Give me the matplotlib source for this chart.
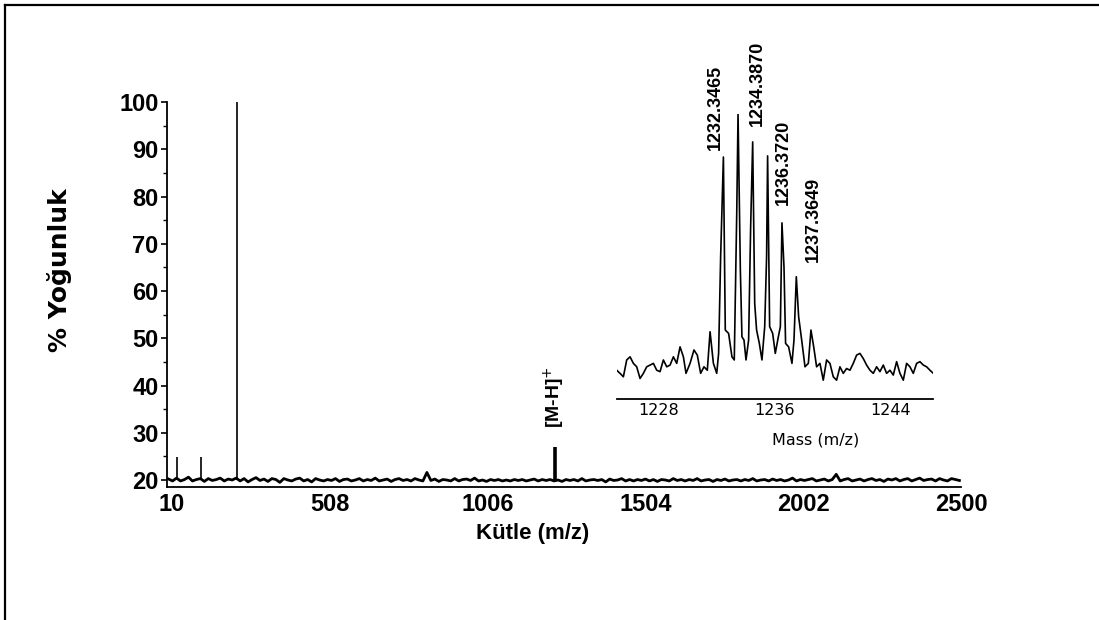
import matplotlib
matplotlib.use("Agg")
import matplotlib.pyplot as plt
from matplotlib import font_manager
from matplotlib.lines import Line2D
import numpy as np

noise_int = [
    20.2, 19.8, 20.4, 19.8, 20.1, 20.6, 19.8, 20.1, 20.3, 19.7,
    20.3, 19.9, 20.1, 20.4, 19.8, 20.2, 20.0, 20.4, 19.8, 20.3,
    19.6, 20.1, 20.5, 19.9, 20.2, 19.7, 20.3, 20.1, 19.5, 20.3,
    20.0, 19.8, 20.2, 20.4, 19.8, 20.1, 19.6, 20.3, 20.0, 19.8,
    20.1, 19.9, 20.3, 19.7, 20.1, 20.2, 19.8, 20.0, 20.3, 19.8,
    20.1, 19.9, 20.4, 19.8, 20.0, 20.2, 19.7, 20.1, 20.3, 19.9,
    20.1, 19.8, 20.3, 20.0, 19.8, 21.6, 19.9, 20.2, 19.7, 20.1,
    20.0, 19.8, 20.3, 19.8, 20.1, 20.2, 19.9, 20.4, 19.8, 20.0,
    19.7, 20.1, 19.9, 20.1, 19.8, 20.0, 19.8, 20.1, 19.9, 20.1,
    19.8, 20.0, 20.2, 19.8, 20.1, 19.9, 20.1, 19.8, 20.0, 19.7,
    20.1, 19.9, 20.1, 19.8, 20.3, 19.8, 20.0, 20.1, 19.9, 20.1,
    19.6, 20.2, 19.9, 20.0, 20.3, 19.8, 20.1, 19.8, 20.1, 19.9,
    20.2, 19.8, 20.1, 19.7, 20.1, 20.0, 19.8, 20.3, 19.9, 20.1,
    19.8, 20.1, 19.9, 20.3, 19.8, 20.0, 20.1, 19.7, 20.1, 19.9,
    20.2, 19.8, 20.0, 20.1, 19.8, 20.1, 19.9, 20.3, 19.8, 20.0,
    20.1, 19.8, 20.2, 19.9, 20.1, 19.8, 20.0, 20.4, 19.8, 20.1,
    19.9, 20.1, 20.3, 19.8, 20.0, 20.2, 19.8, 20.1, 21.2, 19.8,
    20.1, 20.3, 19.8, 20.0, 20.2, 19.8, 20.1, 20.3, 19.9, 20.1,
    19.7, 20.2, 20.0, 20.3, 19.8, 20.1, 20.3, 19.8, 20.1, 20.4,
    19.9, 20.1, 20.2, 19.8, 20.3, 20.0, 19.8, 20.3, 20.1, 19.9,
]
noise_mz = np.linspace(0, 2495, len(noise_int))

# distinct peaks rising from the baseline
peak_mz = [27, 103, 216, 1218]
peak_int = [24.9, 24.9, 100, 27.0]
peak_lw = [1.2, 1.2, 1.2, 2.6]

xticks = [10, 508, 1006, 1504, 2002, 2500]
yticks = [20, 30, 40, 50, 60, 70, 80, 90, 100]

# inset: zoom on the isotope cluster
ins_mz = [
    1225.08, 1225.31, 1225.54, 1225.77, 1226.00, 1226.23, 1226.46, 1226.69, 1226.92, 1227.15,
    1227.38, 1227.61, 1227.84, 1228.07, 1228.30, 1228.53, 1228.76, 1228.99, 1229.22, 1229.45,
    1229.68, 1229.86, 1230.14, 1230.41, 1230.64, 1230.87, 1231.10, 1231.33, 1231.52, 1231.75,
    1231.98, 1232.11, 1232.25, 1232.44, 1232.57, 1232.80, 1233.03, 1233.19, 1233.36, 1233.45,
    1233.61, 1233.72, 1233.86, 1234.00, 1234.18, 1234.32, 1234.46, 1234.60, 1234.73, 1234.92,
    1235.10, 1235.29, 1235.42, 1235.49, 1235.63, 1235.84, 1236.02, 1236.23, 1236.37, 1236.48,
    1236.62, 1236.73, 1236.94, 1237.17, 1237.31, 1237.47, 1237.63, 1237.84, 1238.07, 1238.30,
    1238.48, 1238.67, 1238.87, 1239.10, 1239.33, 1239.56, 1239.79, 1240.02, 1240.25, 1240.48,
    1240.71, 1240.94, 1241.17, 1241.40, 1241.63, 1241.86, 1242.09, 1242.32, 1242.55, 1242.78,
    1243.01, 1243.24, 1243.47, 1243.70, 1243.93, 1244.16, 1244.39, 1244.62, 1244.85, 1245.08,
    1245.31, 1245.54, 1245.77, 1246.00, 1246.23, 1246.46, 1246.69, 1246.92,
]
ins_int = [
    10.1, 9.0, 7.8, 13.7, 14.8, 12.5, 11.3, 7.2, 9.0, 11.3,
    11.9, 12.5, 10.1, 9.6, 13.7, 11.3, 11.9, 14.8, 12.5, 18.3,
    14.8, 9.0, 12.5, 17.2, 15.4, 9.0, 11.3, 10.1, 23.6, 12.5,
    9.0, 16.0, 49.9, 84.9, 24.2, 23.0, 14.8, 13.7, 65.1, 100.0,
    45.2, 21.8, 20.7, 13.7, 20.7, 60.4, 90.2, 33.5, 24.2, 19.5,
    13.7, 25.4, 49.9, 85.3, 25.4, 23.0, 16.0, 21.8, 25.4, 61.8,
    46.4, 19.5, 18.3, 12.5, 20.7, 42.9, 28.9, 20.7, 11.3, 12.5,
    24.2, 18.3, 11.3, 12.5, 6.6, 13.7, 12.5, 7.8, 6.6, 11.3,
    9.0, 10.7, 10.1, 12.5, 15.4, 16.0, 14.2, 11.9, 10.1, 9.0,
    11.3, 9.6, 11.9, 9.0, 10.1, 8.4, 13.1, 9.0, 6.6, 12.5,
    11.3, 9.0, 12.5, 13.1, 11.9, 11.3, 10.1, 9.0,
]
ins_ticks = [1228, 1236, 1244]
ins_labels = ["1232.3465", "1234.3870", "1236.3720", "1237.3649"]
ins_label_mz = [1231.86, 1234.75, 1236.55, 1238.62]
ins_label_int = [87.4, 95.8, 68.1, 48.1]

names = {f.name for f in font_manager.fontManager.ttflist}
narrow = "Liberation Sans Narrow" if "Liberation Sans Narrow" in names else "Liberation Sans"

fig = plt.figure(figsize=(10.99, 6.2), dpi=100)
fig.patch.set_facecolor("white")

# page frame (top and left edges visible)
fig.add_artist(Line2D([5/1099, 5/1099], [0, 1-5/620], color="black", lw=1.6))
fig.add_artist(Line2D([5/1099, 1], [1-5/620, 1-5/620], color="black", lw=1.6))

ax = fig.add_axes([167/1099, 1-487/620, 794/1099, 385/620])
ax.plot(noise_mz, noise_int, color="black", lw=2.0)
for m, h, w in zip(peak_mz, peak_int, peak_lw):
    ax.vlines(m, 20, h, color="black", lw=w)
ax.set_xlim(-5, 2500)
ax.set_ylim(18.52, 100)
ax.set_xticks(xticks)
ax.set_yticks(yticks)
ax.set_yticks(np.arange(25, 100, 10), minor=True)
for s in ["top", "right"]:
    ax.spines[s].set_visible(False)
for s in ["left", "bottom"]:
    ax.spines[s].set_linewidth(1.3)
ax.tick_params(axis="y", which="major", length=4, width=1.2, pad=2)
ax.tick_params(axis="y", which="minor", length=3, width=1.0)
ax.tick_params(axis="x", length=0, pad=4)
for lab in ax.get_xticklabels() + ax.get_yticklabels():
    lab.set_fontfamily(narrow)
    lab.set_fontweight("bold")
    lab.set_fontsize(17)
ax.patch.set_alpha(0)

fig.text(60/1099, 1-270/620, "% Yoğunluk", rotation=90, ha="center", va="center",
         fontsize=18, fontweight="bold", family="DejaVu Sans")
fig.text(533/1099, 1-533/620, "Kütle (m/z)", ha="center", va="center",
         fontsize=16, fontweight="bold", family="Liberation Sans")
ax.text(1218, 31.0, "[M-H]$^{+}$", rotation=90, ha="center", va="bottom",
        fontsize=14, fontweight="bold", family=narrow)

# inset
axi = fig.add_axes([617/1099, 1-399/620, 316/1099, 285/620])
axi.plot(ins_mz, ins_int, color="black", lw=1.2)
axi.set_xlim(1225.1, 1246.9)
axi.set_ylim(0, 100)
axi.set_xticks(ins_ticks)
axi.set_yticks([])
for s in ["top", "right", "left"]:
    axi.spines[s].set_visible(False)
axi.spines["bottom"].set_linewidth(1.3)
axi.tick_params(axis="x", length=0, pad=3, labelsize=11.5)
axi.patch.set_alpha(0)
for t, m, h in zip(ins_labels, ins_label_mz, ins_label_int):
    axi.text(m, h, t, rotation=90, ha="center", va="bottom",
             fontsize=13, fontweight="bold", family=narrow)
fig.text(816/1099, 1-440/620, "Mass (m/z)", ha="center", va="center",
         fontsize=11.5, family="DejaVu Sans")

fig.savefig("out.png", dpi=100)
